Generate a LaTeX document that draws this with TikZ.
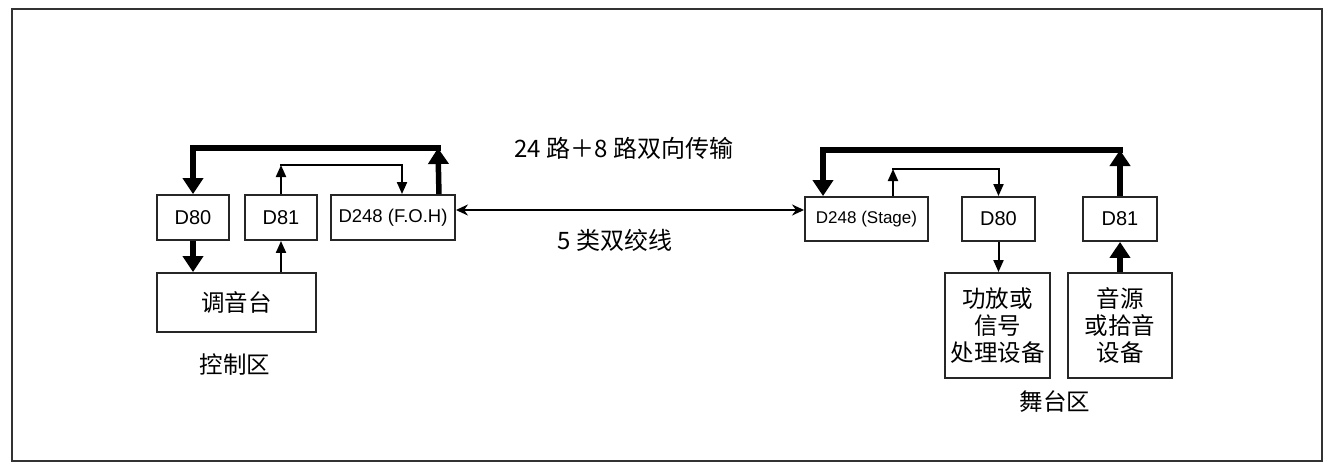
\documentclass[tikz,border=0pt]{standalone}
\usepackage{fontspec}
\setmainfont{Liberation Sans}
\newfontfamily\cjk{Noto Sans CJK SC}
\usetikzlibrary{arrows.meta,calc}
\begin{document}
\begin{tikzpicture}[x=1pt,y=-1pt,
  box/.style={draw=black!85, line width=1.9pt, inner sep=0pt, minimum height=45pt},
  lat/.style={font=\fontsize{20}{24}\selectfont},
  zh/.style={font=\cjk\fontsize{23.5}{27}\selectfont, align=center},
  thk/.style={line width=5.5pt, line join=miter, -{Triangle[width=20pt,length=16pt]}},
  thn/.style={line width=2pt, line join=miter, -{Triangle[width=10pt,length=12pt]}},
  dbl/.style={line width=2.5pt, {Stealth[width=11pt,length=12pt]}-{Stealth[width=11pt,length=12pt]}},
]
\useasboundingbox (0,0) rectangle (1334,471);
\draw[line width=2pt, black!80] (12,9) rectangle (1322,461);

% left (control area)
\node[box, minimum width=72pt, lat] (D80L) at (193,217.5) {D80};
\node[box, minimum width=72pt, lat] (D81L) at (281,217.5) {D81};
\node[box, minimum width=124pt, font=\fontsize{18.5}{22}\selectfont] (FOH) at (393,217.5) {D248 (F.O.H)};
\node[box, minimum width=159pt, minimum height=59pt, zh] (MIX) at (236.5,302.5) {调音台};
\node[zh] (CTRL) at (235,365) {控制区};

% right (stage area)
\node[box, minimum width=123pt, minimum height=44pt, font=\fontsize{17}{20}\selectfont] (STG) at (866.5,219) {D248 (Stage)};
\node[box, minimum width=73pt, minimum height=44pt, lat] (D80R) at (998.5,219) {D80};
\node[box, minimum width=74pt, minimum height=44pt, lat] (D81R) at (1120,219) {D81};
\node[box, minimum width=105pt, minimum height=105pt, zh] (AMP) at (997.5,325.5) {功放或\\信号\\处理设备};
\node[box, minimum width=104pt, minimum height=105pt, zh] (SRC) at (1120,325.5) {音源\\或拾音\\设备};
\node[zh] (STAGEAREA) at (1055,402) {舞台区};

% middle labels
\node[font=\cjk\fontsize{24}{27}\selectfont] (TOP) at (624,148) {24 路＋8 路双向传输};
\node[font=\cjk\fontsize{24}{27}\selectfont] (BOT) at (615,240) {5 类双绞线};

% coordinates
\coordinate (LkA) at (438,148);
\coordinate (LkB) at (193,148);
\coordinate (LnA) at (281,165);
\coordinate (LnB) at (402,165);
\coordinate (RkA) at (1120,150);
\coordinate (RkB) at (823,150);
\coordinate (RnA) at (893,169);
\coordinate (RnB) at (998.5,169);
\coordinate (DY) at (0,210);

% left connectors
\draw[thk] ([xshift=-17pt]FOH.north east) -- (LkA);
\draw[thk, line cap=rect] (LkA) -- (LkB) -- (D80L.north);
\draw[thn] (D81L.north) -- (LnA);
\draw[thn, line cap=rect] (LnA) -- (LnB) -- (LnB |- FOH.north);
\draw[thk] (D80L.south) -- (D80L.south |- MIX.north);
\draw[thn] (D81L.south |- MIX.north) -- (D81L.south);

% right connectors
\draw[thk] (D81R.north) -- (RkA);
\draw[thk, line cap=rect] (RkA) -- (RkB) -- (RkB |- STG.north);
\draw[thn] (RnA |- STG.north) -- (RnA);
\draw[thn, line cap=rect] (RnA) -- (RnB) -- (D80R.north);
\draw[thn] (D80R.south) -- (D80R.south |- AMP.north);
\draw[thk] (D81R.south |- SRC.north) -- (D81R.south);

% link
\draw[dbl] (FOH.east |- DY) -- (STG.west |- DY);
\end{tikzpicture}
\end{document}
